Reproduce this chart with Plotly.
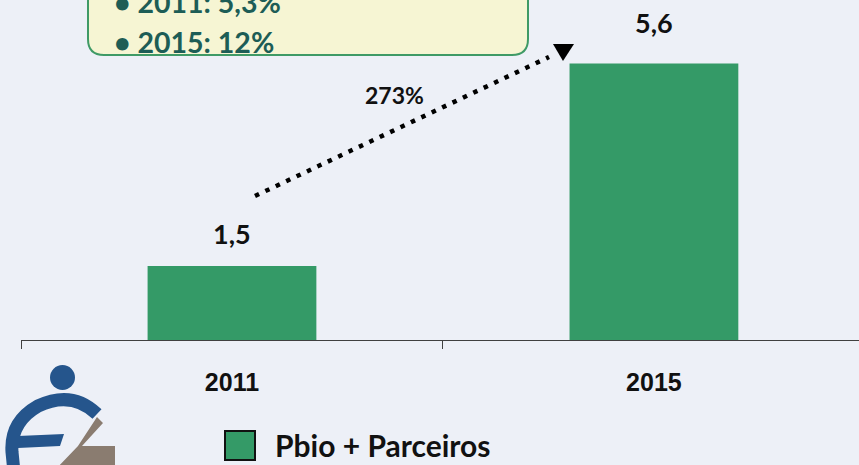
import plotly.graph_objects as go

# ---- data ----
categories = ["2011", "2015"]
values = [1.5, 5.6]
series_name = "Pbio + Parceiros"
growth_label = "273%"
callout_lines = ["• 2011: 5,3%", "• 2015: 12%"]

# ---- style ----
W, H = 859, 465
L, R, T, B = 21, 0, 30, 125
PW, PH = W - L - R, H - T - B
BAR = "#349a67"
TEAL = "#1d5d56"
BG = "#edf0f7"
LABEL_YSHIFT = [32, 41]


def px(x):
    return (x - L) / PW


def py(y):
    return (H - B - y) / PH


def path(points, close=True):
    s = "M " + " L ".join(f"{px(x):.5f},{py(y):.5f}" for x, y in points)
    return s + (" Z" if close else "")


fig = go.Figure()
fig.add_trace(go.Bar(
    x=categories, y=values, name=series_name,
    marker=dict(color=BAR, line=dict(width=0)),
    width=0.4, showlegend=False, hoverinfo="skip",
))

annotations = []
for i, (v, sh) in enumerate(zip(values, LABEL_YSHIFT)):
    annotations.append(dict(
        x=i, y=v, xref="x", yref="y", text=f"{v:.1f}".replace(".", ","),
        showarrow=False, yanchor="middle", xanchor="center", yshift=sh,
        font=dict(family="Lato", size=27, color="#111111", weight="bold"),
    ))

# callout text
for txt, base in zip(callout_lines, [13, 53]):
    annotations.append(dict(
        x=px(112), y=py(base - 0.387 * 28.5), xref="paper", yref="paper",
        text=txt, showarrow=False, xanchor="left", yanchor="middle",
        font=dict(family="Lato", size=28.5, color=TEAL, weight="bold"),
    ))

# growth label
annotations.append(dict(
    x=px(394.5), y=py(104 - 0.387 * 23), xref="paper", yref="paper",
    text=growth_label, showarrow=False, xanchor="center", yanchor="middle",
    font=dict(family="Lato", size=23, color="#111111", weight="bold"),
))

# legend text
annotations.append(dict(
    x=px(273), y=py(457 - 0.387 * 30), xref="paper", yref="paper",
    text=series_name, showarrow=False, xanchor="left", yanchor="middle",
    font=dict(family="Lato", size=30, color="#111111", weight="bold"),
))

shapes = []
# callout box (rounded)
x0, x1, y0, y1, r = 88, 528, -40, 55, 16
box = (f"M {px(x0):.5f},{py(y0):.5f} L {px(x0):.5f},{py(y1 - r):.5f} "
       f"Q {px(x0):.5f},{py(y1):.5f} {px(x0 + r):.5f},{py(y1):.5f} "
       f"L {px(x1 - r):.5f},{py(y1):.5f} "
       f"Q {px(x1):.5f},{py(y1):.5f} {px(x1):.5f},{py(y1 - r):.5f} "
       f"L {px(x1):.5f},{py(y0):.5f} Z")
shapes.append(dict(type="path", path=box, xref="paper", yref="paper",
                   fillcolor="#f6f5d3", line=dict(color="#3f9a66", width=2),
                   layer="below"))

# dotted arrow
shapes.append(dict(type="line", xref="paper", yref="paper",
                   x0=px(255), y0=py(196), x1=px(549), y1=py(57),
                   line=dict(color="#000000", width=4.5, dash="4.5px,7px")))
shapes.append(dict(type="path", xref="paper", yref="paper",
                   path=path([(553, 44), (574, 44), (563, 61)]),
                   fillcolor="#000000", line=dict(width=0)))

# legend swatch
shapes.append(dict(type="rect", xref="paper", yref="paper",
                   x0=px(225), x1=px(255), y0=py(460), y1=py(431),
                   fillcolor=BAR, line=dict(color="#111111", width=2)))

# logo
BLUE = "#25558c"
GRAY = "#8a7c70"
shapes.append(dict(type="circle", xref="paper", yref="paper",
                   x0=px(50), x1=px(75), y0=py(390), y1=py(365),
                   fillcolor=BLUE, line=dict(width=0)))
arc = (f"M {px(97):.5f},{py(414):.5f} "
       f"Q {px(72):.5f},{py(390):.5f} {px(38):.5f},{py(406):.5f} "
       f"Q {px(10):.5f},{py(422):.5f} {px(12):.5f},{py(452):.5f} "
       f"L {px(14):.5f},{py(472):.5f}")
shapes.append(dict(type="path", xref="paper", yref="paper", path=arc,
                   line=dict(color=BLUE, width=13)))
shapes.append(dict(type="path", xref="paper", yref="paper",
                   path=path([(18, 436), (64, 434), (60, 446), (18, 448)]),
                   fillcolor=BLUE, line=dict(width=0)))
shapes.append(dict(type="path", xref="paper", yref="paper",
                   path=path([(97, 417), (103, 423), (82, 446), (115, 446),
                              (115, 470), (55, 470), (78, 446)]),
                   fillcolor=GRAY, line=dict(width=0)))

fig.update_layout(
    width=W, height=H,
    margin=dict(l=L, r=R, t=T, b=B, pad=0),
    paper_bgcolor=BG, plot_bgcolor="rgba(0,0,0,0)",
    showlegend=False,
    xaxis=dict(
        type="category", range=[-0.5, 1.486],
        showline=True, linecolor="#404040", linewidth=1,
        ticks="outside", tickson="boundaries", ticklen=8,
        tickcolor="#404040", tickwidth=1,
        showgrid=False, zeroline=False,
        tickfont=dict(family="Liberation Sans", size=25, color="#111111",
                      weight="bold"),
        ticklabelstandoff=20,
    ),
    yaxis=dict(range=[0, 6.28], visible=False, showgrid=False,
               zeroline=False),
    annotations=annotations,
    shapes=shapes,
)

fig.write_html(
    "out.html",
    config={"displayModeBar": False, "staticPlot": True},
    post_script="document.body.style.margin='0';document.body.style.overflow='hidden';",
)
